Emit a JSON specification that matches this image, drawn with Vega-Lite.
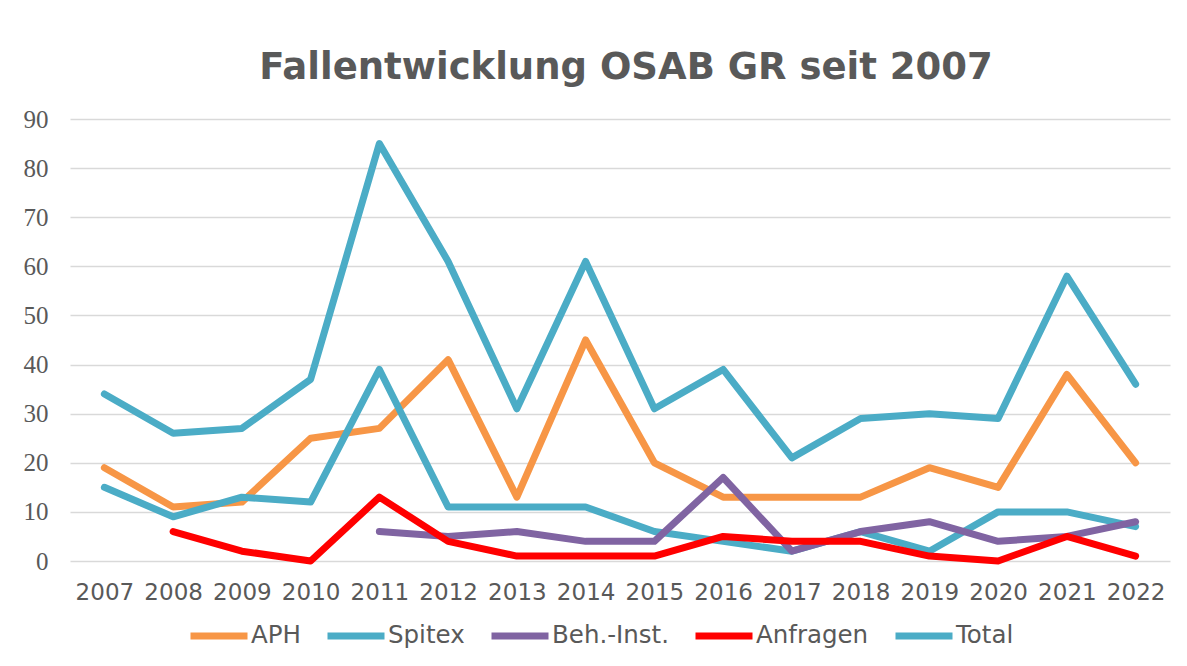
{
  "$schema": "https://vega.github.io/schema/vega-lite/v6.json",
  "width": 1100,
  "height": 442,
  "autosize": {"type": "none"},
  "padding": {"left": 70, "top": 119, "right": 17, "bottom": 105},
  "background": "white",
  "title": {
    "text": "Fallentwicklung OSAB GR seit 2007",
    "font": "DejaVu Sans",
    "fontSize": 37,
    "fontWeight": "bold",
    "color": "#595959",
    "anchor": "middle",
    "frame": "group",
    "offset": 20,
    "dx": 6
  },
  "data": {
    "values": [
      {"year": "2007", "series": "APH", "value": 19},
      {"year": "2008", "series": "APH", "value": 11},
      {"year": "2009", "series": "APH", "value": 12},
      {"year": "2010", "series": "APH", "value": 25},
      {"year": "2011", "series": "APH", "value": 27},
      {"year": "2012", "series": "APH", "value": 41},
      {"year": "2013", "series": "APH", "value": 13},
      {"year": "2014", "series": "APH", "value": 45},
      {"year": "2015", "series": "APH", "value": 20},
      {"year": "2016", "series": "APH", "value": 13},
      {"year": "2017", "series": "APH", "value": 13},
      {"year": "2018", "series": "APH", "value": 13},
      {"year": "2019", "series": "APH", "value": 19},
      {"year": "2020", "series": "APH", "value": 15},
      {"year": "2021", "series": "APH", "value": 38},
      {"year": "2022", "series": "APH", "value": 20},
      {"year": "2007", "series": "Spitex", "value": 15},
      {"year": "2008", "series": "Spitex", "value": 9},
      {"year": "2009", "series": "Spitex", "value": 13},
      {"year": "2010", "series": "Spitex", "value": 12},
      {"year": "2011", "series": "Spitex", "value": 39},
      {"year": "2012", "series": "Spitex", "value": 11},
      {"year": "2013", "series": "Spitex", "value": 11},
      {"year": "2014", "series": "Spitex", "value": 11},
      {"year": "2015", "series": "Spitex", "value": 6},
      {"year": "2016", "series": "Spitex", "value": 4},
      {"year": "2017", "series": "Spitex", "value": 2},
      {"year": "2018", "series": "Spitex", "value": 6},
      {"year": "2019", "series": "Spitex", "value": 2},
      {"year": "2020", "series": "Spitex", "value": 10},
      {"year": "2021", "series": "Spitex", "value": 10},
      {"year": "2022", "series": "Spitex", "value": 7},
      {"year": "2011", "series": "Beh.-Inst.", "value": 6},
      {"year": "2012", "series": "Beh.-Inst.", "value": 5},
      {"year": "2013", "series": "Beh.-Inst.", "value": 6},
      {"year": "2014", "series": "Beh.-Inst.", "value": 4},
      {"year": "2015", "series": "Beh.-Inst.", "value": 4},
      {"year": "2016", "series": "Beh.-Inst.", "value": 17},
      {"year": "2017", "series": "Beh.-Inst.", "value": 2},
      {"year": "2018", "series": "Beh.-Inst.", "value": 6},
      {"year": "2019", "series": "Beh.-Inst.", "value": 8},
      {"year": "2020", "series": "Beh.-Inst.", "value": 4},
      {"year": "2021", "series": "Beh.-Inst.", "value": 5},
      {"year": "2022", "series": "Beh.-Inst.", "value": 8},
      {"year": "2008", "series": "Anfragen", "value": 6},
      {"year": "2009", "series": "Anfragen", "value": 2},
      {"year": "2010", "series": "Anfragen", "value": 0},
      {"year": "2011", "series": "Anfragen", "value": 13},
      {"year": "2012", "series": "Anfragen", "value": 4},
      {"year": "2013", "series": "Anfragen", "value": 1},
      {"year": "2014", "series": "Anfragen", "value": 1},
      {"year": "2015", "series": "Anfragen", "value": 1},
      {"year": "2016", "series": "Anfragen", "value": 5},
      {"year": "2017", "series": "Anfragen", "value": 4},
      {"year": "2018", "series": "Anfragen", "value": 4},
      {"year": "2019", "series": "Anfragen", "value": 1},
      {"year": "2020", "series": "Anfragen", "value": 0},
      {"year": "2021", "series": "Anfragen", "value": 5},
      {"year": "2022", "series": "Anfragen", "value": 1},
      {"year": "2007", "series": "Total", "value": 34},
      {"year": "2008", "series": "Total", "value": 26},
      {"year": "2009", "series": "Total", "value": 27},
      {"year": "2010", "series": "Total", "value": 37},
      {"year": "2011", "series": "Total", "value": 85},
      {"year": "2012", "series": "Total", "value": 61},
      {"year": "2013", "series": "Total", "value": 31},
      {"year": "2014", "series": "Total", "value": 61},
      {"year": "2015", "series": "Total", "value": 31},
      {"year": "2016", "series": "Total", "value": 39},
      {"year": "2017", "series": "Total", "value": 21},
      {"year": "2018", "series": "Total", "value": 29},
      {"year": "2019", "series": "Total", "value": 30},
      {"year": "2020", "series": "Total", "value": 29},
      {"year": "2021", "series": "Total", "value": 58},
      {"year": "2022", "series": "Total", "value": 36}
    ]
  },
  "mark": {"type": "line", "strokeJoin": "round", "strokeCap": "round"},
  "encoding": {
    "x": {
      "field": "year",
      "type": "ordinal",
      "sort": null,
      "scale": {"type": "point", "padding": 0.5},
      "axis": {
        "title": null,
        "labelAngle": 0,
        "ticks": false,
        "domain": false,
        "grid": false,
        "labelFont": "DejaVu Sans",
        "labelFontSize": 23,
        "labelColor": "#595959",
        "labelPadding": 20
      }
    },
    "y": {
      "field": "value",
      "type": "quantitative",
      "scale": {"domain": [0, 90], "nice": false},
      "axis": {
        "title": null,
        "values": [0, 10, 20, 30, 40, 50, 60, 70, 80, 90],
        "ticks": false,
        "domain": false,
        "grid": true,
        "gridColor": "#D9D9D9",
        "gridWidth": 1.5,
        "labelFont": "Liberation Serif",
        "labelFontSize": 25,
        "labelColor": "#595959",
        "labelPadding": 22
      }
    },
    "color": {
      "field": "series",
      "type": "nominal",
      "sort": ["APH", "Spitex", "Beh.-Inst.", "Anfragen", "Total"],
      "scale": {
        "domain": ["APH", "Spitex", "Beh.-Inst.", "Anfragen", "Total"],
        "range": ["#F79646", "#4BACC6", "#8064A2", "#FF0000", "#4BACC6"]
      },
      "legend": {
        "title": null,
        "orient": "none",
        "direction": "horizontal",
        "columns": 5,
        "legendX": 117,
        "legendY": 485,
        "symbolType": "stroke",
        "symbolSize": 3249,
        "symbolStrokeWidth": 8,
        "labelFont": "DejaVu Sans",
        "labelFontSize": 24.5,
        "labelColor": "#595959",
        "labelOffset": 0,
        "columnPadding": 12,
        "labelLimit": 300
      }
    },
    "strokeWidth": {
      "field": "series",
      "type": "nominal",
      "scale": {
        "domain": ["APH", "Spitex", "Beh.-Inst.", "Anfragen", "Total"],
        "range": [7, 7, 7, 7, 5]
      },
      "legend": null
    }
  },
  "config": {
    "view": {"stroke": null}
  }
}
